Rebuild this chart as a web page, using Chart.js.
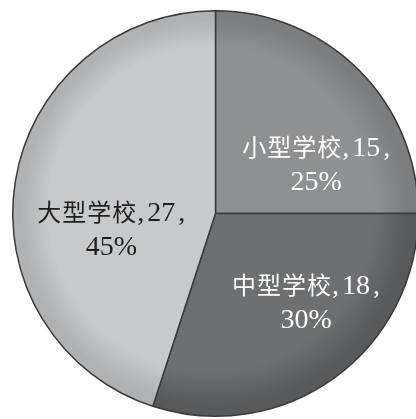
<!DOCTYPE html>
<html>
<head>
<meta charset="utf-8">
<script src="https://cdn.jsdelivr.net/npm/chart.js@4/dist/chart.umd.min.js"></script>
<style>
  html, body { margin: 0; padding: 0; background: #ffffff; overflow: hidden; }
  #wrap { position: absolute; left: 0; top: 0; width: 420px; height: 419px; }
</style>
</head>
<body>
<div id="wrap"><canvas id="c" width="420" height="419"></canvas></div>
<script>
// ---- data ----
const categories = ['小型学校', '中型学校', '大型学校'];
const counts = [15, 18, 27];
const percentLabels = ['25%', '30%', '45%'];

// ---- styles ----
const baseColors = ['#8f9092', '#6e6f71', '#c8c9cb'];
const edgeColors = ['#7c7d7f', '#58595b', '#b0b1b3'];
const textColors = ['#ffffff', '#ffffff', '#1e1e1e'];
// label offsets from the slice centre point (px)
const labelOffsets = [[29, 22], [31, 6], [-4, 31]];
const cjkFont = "24px 'Noto Sans CJK SC', sans-serif";
const numFont = "28px 'Liberation Serif', serif";
const commaGap = 3;

function makeFill(ctx, i) {
  const chart = ctx.chart;
  const area = chart.chartArea;
  if (!area) return baseColors[i];
  const cx = (area.left + area.right) / 2;
  const cy = (area.top + area.bottom) / 2;
  const r = Math.min(area.right - area.left, area.bottom - area.top) / 2;
  const g = chart.ctx.createRadialGradient(cx - r * 0.1, cy - r * 0.1, 0, cx, cy, r);
  g.addColorStop(0, baseColors[i]);
  g.addColorStop(0.8, baseColors[i]);
  g.addColorStop(0.95, edgeColors[i]);
  g.addColorStop(1, edgeColors[i]);
  return g;
}

const labelPlugin = {
  id: 'sliceLabels',
  afterDatasetsDraw(chart) {
    const ctx = chart.ctx;
    const meta = chart.getDatasetMeta(0);
    ctx.save();
    ctx.textBaseline = 'alphabetic';
    ctx.textAlign = 'left';
    meta.data.forEach((arc, i) => {
      const p = arc.getCenterPoint();
      const x = p.x + labelOffsets[i][0];
      const y = p.y + labelOffsets[i][1];
      ctx.fillStyle = textColors[i];
      const cjk = categories[i];
      const num = String(counts[i]);
      ctx.font = cjkFont;
      ctx.letterSpacing = '1px';
      const wCjk = ctx.measureText(cjk).width;
      ctx.letterSpacing = '0px';
      ctx.font = numFont;
      const wComma = ctx.measureText(',').width;
      const wNum = ctx.measureText(num).width;
      const total = wCjk + wComma + commaGap + wNum + commaGap + wComma;
      let cx = x - total / 2;
      const base1 = y - 8;
      ctx.font = cjkFont;
      ctx.letterSpacing = '1px';
      ctx.fillText(cjk, cx, base1);
      cx += wCjk;
      ctx.letterSpacing = '0px';
      ctx.font = numFont;
      ctx.fillText(',', cx, base1);
      cx += wComma + commaGap;
      ctx.fillText(num, cx, base1);
      cx += wNum + commaGap;
      ctx.fillText(',', cx, base1);
      ctx.textAlign = 'center';
      ctx.fillText(percentLabels[i], x, y + 26);
      ctx.textAlign = 'left';
    });
    ctx.restore();
  }
};

new Chart(document.getElementById('c'), {
  type: 'pie',
  data: {
    labels: categories,
    datasets: [{
      data: counts,
      backgroundColor: (ctx) => makeFill(ctx, ctx.dataIndex),
      borderColor: '#3a3a3a',
      borderWidth: 1.5
    }]
  },
  options: {
    responsive: false,
    animation: false,
    layout: { padding: { left: 11, top: 10, right: 0, bottom: 2 } },
    plugins: {
      legend: { display: false },
      tooltip: { enabled: false }
    }
  },
  plugins: [labelPlugin]
});
</script>
</body>
</html>
